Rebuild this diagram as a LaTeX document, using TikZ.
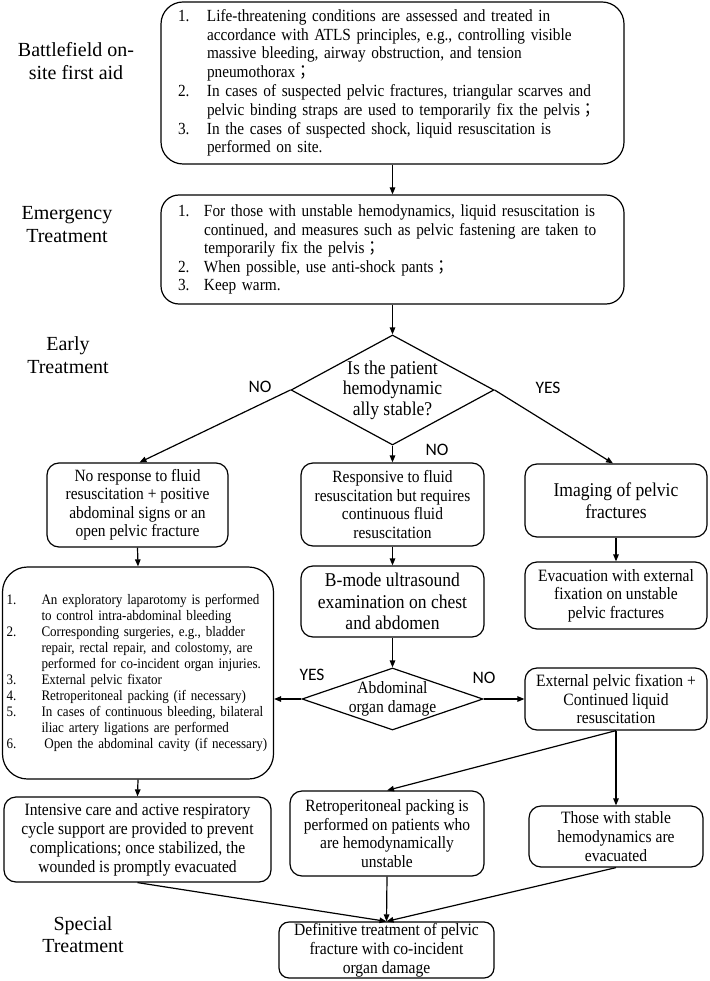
\documentclass[tikz,border=0pt]{standalone}
\usepackage{fontspec}
\setmainfont{Liberation Serif}[FakeStretch=0.9]
\newfontfamily\stagefont{Liberation Serif}
\newfontfamily\labfont{Carlito}
\newfontfamily\cjk{Noto Sans CJK TC}[FakeStretch=0.9]
\usetikzlibrary{shapes.geometric,arrows.meta,calc}
\newcommand\nm[2]{\makebox[#1][l]{#2}}
\newcommand\sem{{\cjk ；}}
\newcommand\fs[2]{\fontsize{#1}{#2}\selectfont}
\hyphenpenalty=10000
\begin{document}
\begin{tikzpicture}[x=1pt,y=-1pt,
  box/.style={draw, line width=1.2pt, rounded corners=10pt, inner sep=0pt, align=center},
  diam/.style={draw, line width=1.2pt, diamond, inner sep=0pt},
  arr/.style={line width=1.2pt, -{Triangle[length=7pt,width=5.5pt]}},
  yn/.style={font=\labfont\fs{17.5}{19}},
  stage/.style={align=center, font=\stagefont\fs{20}{22.7}}]
\useasboundingbox (0,0) rectangle (709,981);

% stage labels
\node[stage] (s1) at (76,61) {Battlefield on-\\site first aid};
\node[stage] (s2) at (67,224.5) {Emergency\\Treatment};
\node[stage] (s3) at (68,355) {Early\\Treatment};
\node[stage] (s4) at (83,934.5) {Special\\Treatment};

% box 1
\node[box, rounded corners=22pt, minimum width=463, minimum height=162,
  text width=429, inner xsep=17pt, align=left, font=\fs{17}{18.8}] (b1) at (392.5,83)
{\nm{29pt}{1.}Life-threatening conditions are assessed and treated in\\
\hspace*{29pt}accordance with ATLS principles, e.g., controlling visible\\
\hspace*{29pt}massive bleeding, airway obstruction, and tension\\
\hspace*{29pt}pneumothorax\sem\\
\nm{29pt}{2.}In cases of suspected pelvic fractures, triangular scarves and\\
\hspace*{29pt}pelvic binding straps are used to temporarily fix the pelvis\sem\\
\nm{29pt}{3.}In the cases of suspected shock, liquid resuscitation is\\
\hspace*{29pt}performed on site.};

% box 2
\node[box, rounded corners=18pt, minimum width=463, minimum height=109,
  text width=429, inner xsep=17pt, align=left, font=\fs{17}{18.5}] (b2) at (392.5,249.5)
{\nm{26pt}{1.}For those with unstable hemodynamics, liquid resuscitation is\\
\hspace*{26pt}continued, and measures such as pelvic fastening are taken to\\
\hspace*{26pt}temporarily fix the pelvis\sem\\
\nm{26pt}{2.}When possible, use anti-shock pants\sem\\
\nm{26pt}{3.}Keep warm.};

% decision 1
\node[diam, minimum width=203, minimum height=110,
  label={[align=center, font=\fs{19.5}{20.5}]center:Is the patient\\hemodynamic\\ally stable?}] (d1) at (392.5,390) {};

% row 2
\node[box, rounded corners=12pt, minimum width=181, minimum height=84, font=\fs{17.2}{18.5}] (nr) at (137.5,505)
{No response to fluid\\resuscitation + positive\\abdominal signs or an\\open pelvic fracture};
\node[box, rounded corners=12pt, minimum width=183, minimum height=83, font=\fs{17.2}{18.5}] (resp) at (392.5,504.5)
{Responsive to fluid\\resuscitation but requires\\continuous fluid\\resuscitation};
\node[box, rounded corners=12pt, minimum width=182, minimum height=73, font=\fs{19.5}{21.7}] (img) at (616,500.5)
{Imaging of pelvic\\fractures};

% row 3
\node[box, rounded corners=25pt, minimum width=271, minimum height=212,
  text width=263, inner xsep=4pt, align=left, font=\fs{14.5}{16.1}] (big) at (138,673)
{\mbox{\nm{35pt}{1.}An exploratory laparotomy is performed}\\
\mbox{\hspace*{35pt}to control intra-abdominal bleeding}\\
\mbox{\nm{35pt}{2.}Corresponding surgeries, e.g., bladder}\\
\mbox{\hspace*{35pt}repair, rectal repair, and colostomy, are}\\
\mbox{\hspace*{35pt}performed for co-incident organ injuries.}\\
\mbox{\nm{35pt}{3.}External pelvic fixator}\\
\mbox{\nm{35pt}{4.}Retroperitoneal packing (if necessary)}\\
\mbox{\nm{35pt}{5.}In cases of continuous bleeding, bilateral}\\
\mbox{\hspace*{35pt}iliac artery ligations are performed}\\
\mbox{\nm{35pt}{6.}\hspace*{3pt}Open the abdominal cavity (if necessary)}};
\node[box, rounded corners=12pt, minimum width=183, minimum height=71, font=\fs{19.5}{21.5}] (bmode) at (392.5,601.5)
{B-mode ultrasound\\examination on chest\\and abdomen};
\node[box, rounded corners=12pt, minimum width=182, minimum height=67, font=\fs{17.3}{18.5}] (evac) at (616,595.5)
{Evacuation with external\\fixation on unstable\\pelvic fractures};

% decision 2
\node[diam, minimum width=181, minimum height=62,
  label={[align=center, font=\fs{17.3}{19}]center:Abdominal\\organ damage}] (d2) at (392.5,699) {};
\node[box, rounded corners=12pt, minimum width=182, minimum height=62, font=\fs{17.3}{18.5}] (ext) at (616,699)
{External pelvic fixation +\\Continued liquid\\resuscitation};

% row 4
\node[box, rounded corners=12pt, minimum width=267, minimum height=85, font=\fs{17.3}{19}] (icu) at (137.5,839.5)
{Intensive care and active respiratory\\cycle support are provided to prevent\\complications; once stabilized, the\\wounded is promptly evacuated};
\node[box, rounded corners=12pt, minimum width=194, minimum height=85, font=\fs{17.2}{18.7}] (retro) at (387,833.5)
{Retroperitoneal packing is\\performed on patients who\\are hemodynamically\\unstable};
\node[box, rounded corners=12pt, minimum width=174, minimum height=61, font=\fs{17.3}{18.7}] (stable) at (616,836.5)
{Those with stable\\hemodynamics are\\evacuated};

% final
\node[box, rounded corners=10pt, minimum width=215, minimum height=56, font=\fs{17.3}{19}] (def) at (386.5,950)
{Definitive treatment of pelvic\\fracture with co-incident\\organ damage};

% YES / NO labels
\node[yn] (n1) at (260,387) {NO};
\node[yn] (y1) at (548,388) {YES};
\node[yn] (n2) at (437,450) {NO};
\node[yn] (y2) at (312,675) {YES};
\node[yn] (n3) at (484,678) {NO};

% connectors
\draw[arr] (b1.south) -- (b2.north);
\draw[arr] (b2.south) -- (d1.north);
\draw[arr] (d1.west) -- ($(nr.north)+(2,0)$);
\draw[arr] (d1.south) -- (resp.north);
\draw[arr] (d1.east) -- ($(img.north)+(-3,0)$);
\draw[arr] (nr.south) -- (big.north);
\draw[arr] (resp.south) -- (bmode.north);
\draw[arr] (img.south) -- (evac.north);
\draw[arr] (bmode.south) -- (d2.north);
\draw[arr] (d2.west) -- (d2.west -| big.east);
\draw[arr] (d2.east) -- (ext.west);
\draw[arr] (big.south) -- (icu.north);
\draw[arr] (ext.south) -- (retro.north);
\draw[arr] (ext.south) -- (ext.south |- stable.north);
\draw[arr] (icu.south) -- (def.north);
\draw[arr] (retro.south) -- (def.north);
\draw[arr] (stable.south) -- (def.north);
\end{tikzpicture}
\end{document}
